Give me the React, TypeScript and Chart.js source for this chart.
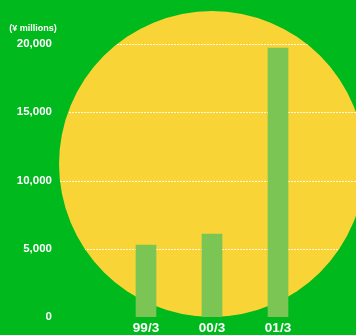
import React, { useEffect, useRef } from "react";
import { Chart, registerables } from "chart.js";

Chart.register(...registerables);

const categories = ["99/3", "00/3", "01/3"];
const salesValues = [5270, 6080, 19700];
const unitLabel = "(¥ millions)";
const yMin = 0;
const yMax = 20000;
const yStep = 5000;

const GREEN = "#00b91c";
const YELLOW = "#f8d436";
const BAR = "#7ac553";
const FONT = "'Liberation Sans', Arial, Helvetica, sans-serif";

const backdrop = {
  id: "backdrop",
  beforeDraw(chart: any) {
    const { ctx, width, height } = chart;
    ctx.save();
    ctx.fillStyle = GREEN;
    ctx.fillRect(0, 0, width, height);
    const cx = 212, cy = 164, r = 153;
    ctx.beginPath();
    ctx.arc(cx, cy, r, 0, Math.PI * 2);
    ctx.fillStyle = YELLOW;
    ctx.fill();
    ctx.clip();
    const y = chart.scales.y;
    ctx.strokeStyle = "rgba(255,255,255,0.85)";
    ctx.lineWidth = 1;
    ctx.setLineDash([2, 1]);
    for (const t of y.ticks) {
      if (t.value === 0) continue;
      const py = Math.round(y.getPixelForValue(t.value)) + 0.5;
      ctx.beginPath();
      ctx.moveTo(0, py);
      ctx.lineTo(width, py);
      ctx.stroke();
    }
    ctx.restore();
    ctx.save();
    ctx.fillStyle = "#ffffff";
    ctx.font = `bold 9px ${FONT}`;
    ctx.textAlign = "center";
    ctx.textBaseline = "middle";
    ctx.fillText(unitLabel, 33, 29);
    ctx.restore();
  },
};

export default function App() {
  const ref = useRef<HTMLCanvasElement>(null);
  useEffect(() => {
    if (!ref.current) return;
    const chart = new Chart(ref.current, {
      type: "bar",
      data: {
        labels: categories,
        datasets: [
          {
            data: salesValues,
            backgroundColor: BAR,
            borderWidth: 0,
            barThickness: 20,
          },
        ],
      },
      options: {
        responsive: false,
        animation: false,
        layout: { padding: { top: 44, right: 45, left: 0, bottom: 0 } },
        plugins: { legend: { display: false }, tooltip: { enabled: false } },
        scales: {
          x: {
            grid: { display: false, drawTicks: false },
            border: { display: false },
            ticks: {
              color: "#ffffff",
              padding: 3,
              maxRotation: 0,
              font: { family: FONT, size: 13.5, weight: "bold" },
            },
            afterFit(scale: any) {
              scale.height = 18;
              scale.paddingLeft = 0;
              scale.paddingRight = 0;
            },
          },
          y: {
            min: yMin,
            max: yMax,
            grid: { display: false, drawTicks: false },
            border: { display: false },
            ticks: {
              stepSize: yStep,
              color: "#ffffff",
              padding: 61,
              font: { family: FONT, size: 11.5, weight: "bold" },
              callback: (v: any) => Number(v).toLocaleString("en-US"),
            },
            afterFit(scale: any) {
              scale.width = 113;
              scale.paddingTop = 0;
              scale.paddingBottom = 0;
            },
          },
        },
      },
      plugins: [backdrop],
    });
    return () => chart.destroy();
  }, []);
  return (
    <div style={{ position: "absolute", left: 0, top: 0, width: 356, height: 335 }}>
      <canvas ref={ref} width={356} height={335} style={{ display: "block" }} />
    </div>
  );
}
